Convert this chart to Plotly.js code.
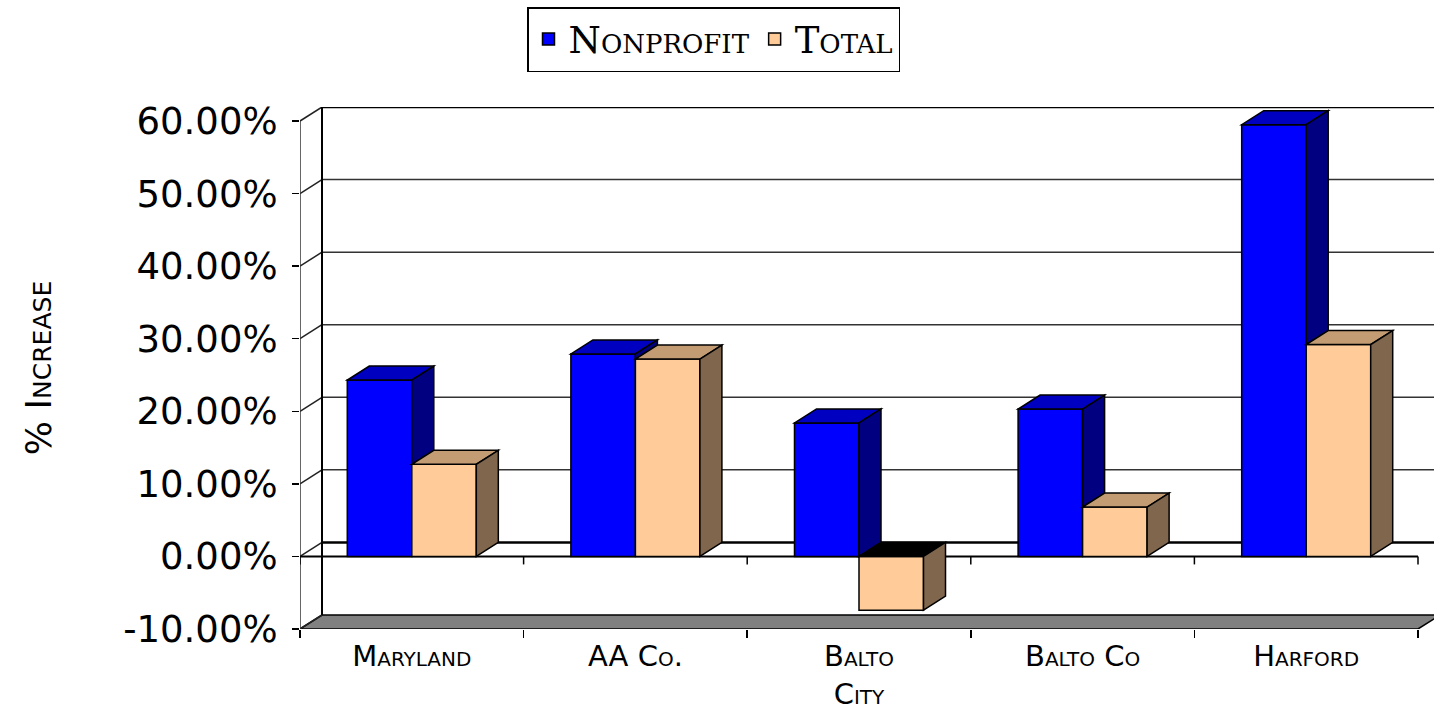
<!DOCTYPE html>
<html>
<head>
<meta charset="utf-8">
<script src="https://cdn.plot.ly/plotly-3.0.1.min.js"></script>
<style>html,body{margin:0;padding:0;background:#fff;}#chart{width:1434px;height:710px;}</style>
</head>
<body>
<div id="chart"></div>
<script>
// ---- data ----
const CATEGORIES = ['Maryland', 'AA Co.', 'Balto<br>City', 'Balto Co', 'Harford'];
const NONPROFIT = [24.3, 27.9, 18.4, 20.3, 59.5];   // % increase
const TOTAL = [12.7, 27.2, -7.4, 6.8, 29.2];        // % increase
const SERIES_NAMES = ['Nonprofit', 'Total'];
const TICK_VALUES = [-10, 0, 10, 20, 30, 40, 50, 60];
const TICK_LABELS = ['-10.00%', '0.00%', '10.00%', '20.00%', '30.00%', '40.00%', '50.00%', '60.00%'];
const Y_TITLE = '% Increase';

// ---- style ----
const FRONT = ['#0000FF', '#FFCC99'];
const TOP = ['#0000C0', '#C49C74'];
const SIDE = ['#000080', '#80664D'];
const UNDER_TOP = '#000000';
const PLOT_W = 1134, PLOT_H = 522;
const XMIN = -0.5, CAT_PX = 223.6;
const YMIN = -10, Y_PX = 7.257;
const XMAX = XMIN + PLOT_W / CAT_PX;
const YMAX = YMIN + PLOT_H / Y_PX;
const DX = 22 / CAT_PX, DY = 14 / Y_PX;    // 3D depth in axis units
const BW = 0.2885;                           // bar width in category units

const series = [NONPROFIT, TOTAL];
const traces = series.map((vals, s) => ({
  type: 'bar', name: SERIES_NAMES[s], x: CATEGORIES, y: vals,
  marker: {color: FRONT[s], line: {color: '#000', width: 1.5}},
  hoverinfo: 'skip'
}));

const shapes = [];
const line = (x0, y0, x1, y1, w, c, layer) =>
  shapes.push({type: 'line', xref: 'x', yref: 'y', x0, y0, x1, y1, layer: layer || 'below',
               line: {color: c || '#000', width: w || 1.5}});
const poly = (pts, fill, layer) =>
  shapes.push({type: 'path', xref: 'x', yref: 'y', layer: layer || 'above',
               path: 'M' + pts.map(p => p[0] + ',' + p[1]).join('L') + 'Z',
               fillcolor: fill, line: {color: '#000', width: 1.5}});

const YTOP = TICK_VALUES[TICK_VALUES.length - 1];
// floor
poly([[XMIN, YMIN], [XMIN + 5, YMIN], [XMIN + 5 + DX, YMIN + DY], [XMIN + DX, YMIN + DY]], '#808080', 'below');
// back wall gridlines & left wall diagonals
TICK_VALUES.forEach(v => {
  const strong = (v === YTOP || v === 0);
  if (v !== YMIN) line(XMIN + DX, v + DY, XMAX + 1, v + DY, strong ? 2.5 : 1.5, strong ? '#000' : '#333');
  line(XMIN, v, XMIN + DX, v + DY, 1.5, '#222');
});
// back wall left edge and front value axis
line(XMIN + DX, YMIN + DY, XMIN + DX, YTOP + DY, 2, '#000');
line(XMIN, YMIN, XMIN, YTOP, 1.5, '#333');
// front zero line with ticks at category boundaries
line(XMIN, 0, XMIN + 5, 0, 2, '#000');
for (let k = 0; k <= 5; k++) line(XMIN + k, 0, XMIN + k, -8 / Y_PX, 1.5, '#000');

// 3D faces for bars (top and right side), computed from the data
CATEGORIES.forEach((c, i) => {
  series.forEach((vals, s) => {
    const v = vals[i];
    const xl = i - BW + s * BW, xr = xl + BW;
    const hi = Math.max(v, 0), lo = Math.min(v, 0);
    poly([[xl, hi], [xr, hi], [xr + DX, hi + DY], [xl + DX, hi + DY]], v >= 0 ? TOP[s] : UNDER_TOP);
    let sideLo = lo;
    if (s < series.length - 1) sideLo = Math.max(lo, Math.max(series[s + 1][i], 0));
    if (hi > sideLo) poly([[xr, sideLo], [xr, hi], [xr + DX, hi + DY], [xr + DX, sideLo + DY]], SIDE[s]);
  });
});

const layout = {
  width: 1434, height: 710,
  margin: {l: 300, r: 0, t: 107, b: 81},
  paper_bgcolor: '#fff', plot_bgcolor: 'rgba(0,0,0,0)',
  barmode: 'group', bargap: 1 - 2 * BW, bargroupgap: 0,
  showlegend: true,
  legend: {orientation: 'h', x: (713.5 - 300) / PLOT_W, xanchor: 'center', y: 1 + 100 / PLOT_H, yanchor: 'top',
           bordercolor: '#000', borderwidth: 1.5, bgcolor: '#fff',
           font: {family: 'DejaVu Serif', size: 37, color: '#000', variant: 'small-caps'},
           itemwidth: 30, traceorder: 'normal'},
  xaxis: {type: 'category', range: [XMIN, XMAX], tickson: 'boundaries',
          ticks: 'outside', ticklen: 8, tickwidth: 1.5, tickcolor: '#000',
          showline: false, showgrid: false, zeroline: false, fixedrange: true,
          ticklabelstandoff: 7,
          tickfont: {family: 'DejaVu Sans', size: 29, color: '#000', variant: 'small-caps'}},
  yaxis: {range: [YMIN, YMAX], tickmode: 'array', tickvals: TICK_VALUES, ticktext: TICK_LABELS,
          ticks: 'outside', ticklen: 7, tickwidth: 1.5, tickcolor: '#000',
          showline: false, showgrid: false, zeroline: false, fixedrange: true,
          ticklabelstandoff: 7,
          tickfont: {family: 'DejaVu Sans', size: 37, color: '#000'},
          title: {text: Y_TITLE, standoff: 60,
                  font: {family: 'DejaVu Sans', size: 36, color: '#000', variant: 'small-caps'}}},
  shapes: shapes
};

Plotly.newPlot('chart', traces, layout, {staticPlot: true});
</script>
</body>
</html>
